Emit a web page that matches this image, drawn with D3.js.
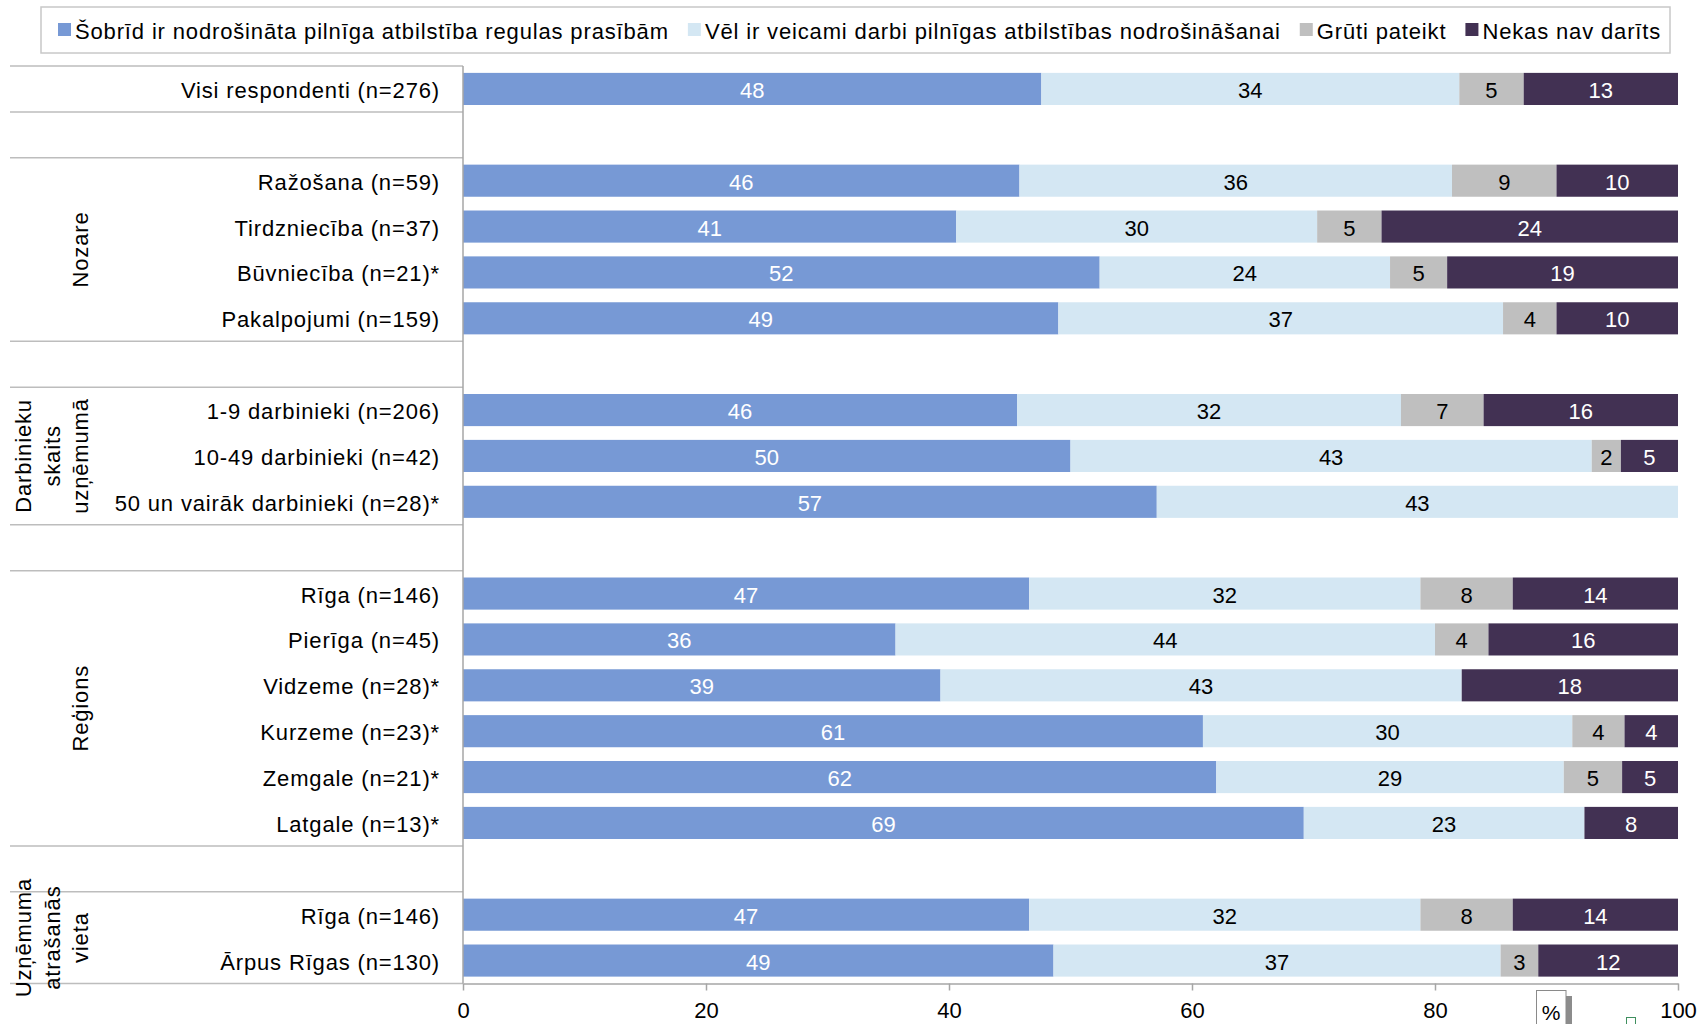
<!DOCTYPE html>
<html><head><meta charset="utf-8">
<script src="https://cdn.jsdelivr.net/npm/d3@7"></script>
<style>
html,body{margin:0;padding:0;background:#fff;}
svg{display:block;font-family:"Liberation Sans",Arial,Helvetica,sans-serif;}
</style></head><body>
<svg id="chart" width="1700" height="1024"></svg>
<script>
// ---- data ----
const seriesNames = [
  "Šobrīd ir nodrošināta pilnīga atbilstība regulas prasībām",
  "Vēl ir veicami darbi pilnīgas atbilstības nodrošināšanai",
  "Grūti pateikt",
  "Nekas nav darīts"
];
const seriesColors = ["#7799d5", "#d4e7f3", "#bfbfbf", "#423153"];
const valueLabelColors = ["#ffffff", "#000000", "#000000", "#ffffff"];

const categories = [
  "Visi respondenti (n=276)", "",
  "Ražošana (n=59)", "Tirdzniecība (n=37)", "Būvniecība (n=21)*", "Pakalpojumi (n=159)", "",
  "1-9 darbinieki (n=206)", "10-49 darbinieki (n=42)", "50 un vairāk darbinieki (n=28)*", "",
  "Rīga (n=146)", "Pierīga (n=45)", "Vidzeme (n=28)*", "Kurzeme (n=23)*", "Zemgale (n=21)*", "Latgale (n=13)*", "",
  "Rīga (n=146)", "Ārpus Rīgas (n=130)"
];
const compliantNow  = [47.6, 0, 45.8, 40.6, 52.4, 49.0, 0, 45.6, 50.0, 57.1, 0, 46.6, 35.6, 39.3, 60.9, 62.0, 69.2, 0, 46.6, 48.6];
const workRemaining = [34.4, 0, 35.6, 29.7, 23.9, 36.6, 0, 31.6, 42.9, 42.9, 0, 32.2, 44.4, 42.9, 30.4, 28.6, 23.1, 0, 32.2, 36.8];
const hardToSay     = [ 5.3, 0,  8.6,  5.3,  4.7,  4.4, 0,  6.8,  2.4,  0.0, 0,  7.6,  4.4,  0.0,  4.3,  4.8,  0.0, 0,  7.6,  3.1];
const nothingDone   = [12.7, 0, 10.0, 24.4, 19.0, 10.0, 0, 16.0,  4.7,  0.0, 0, 13.6, 15.6, 17.8,  4.4,  4.6,  7.7, 0, 13.6, 11.5];

const groupLabels = [["Nozare"], ["Darbinieku", "skaits", "uzņēmumā"], ["Reģions"], ["Uzņēmuma", "atrašanās", "vieta"]];
const groupFirst = [2, 7, 11, 18];
const groupLast  = [5, 9, 16, 19];

const xTicks = [0, 20, 40, 60, 80, 100];
const axisUnit = "%";

// ---- build ----
const seriesArrays = [compliantNow, workRemaining, hardToSay, nothingDone];
const keys = seriesNames.map((d, i) => "s" + i);
const rows = categories.map((c, i) => {
  const r = {idx: i, cat: c};
  keys.forEach((k, j) => r[k] = categories[i] ? seriesArrays[j][i] : 0);
  return r;
});
const stacked = d3.stack().keys(keys)(rows);

const svg = d3.select("#chart");
const FONT = 22, LS = 0.85, TXT_DY = 9;

const x = d3.scaleLinear().domain([0, 100]).range([463, 1678]);
const y = d3.scaleBand().domain(d3.range(categories.length)).range([66, 983.5])
  .paddingInner(0.3).paddingOuter(0.15);
const step = y.step();
const bound = k => k >= categories.length ? y.range()[1] : y(k) - y.paddingInner() * step / 2;

// separator lines on left side
const runs = [];
categories.forEach((c, i) => {
  if (!c) return;
  if (runs.length && runs[runs.length - 1][1] === i - 1) runs[runs.length - 1][1] = i;
  else runs.push([i, i]);
});
const sepYs = Array.from(new Set(runs.flatMap(r => [bound(r[0]), bound(r[1] + 1)])));
svg.append("g").selectAll("line").data(sepYs).join("line")
  .attr("x1", 10).attr("x2", x(0)).attr("y1", d => d).attr("y2", d => d)
  .attr("stroke", "#bdbdbd").attr("stroke-width", 1.5);

// bars
const layer = svg.append("g").selectAll("g").data(stacked).join("g")
  .attr("fill", (d, i) => seriesColors[i]);
layer.selectAll("rect").data(d => d.filter(p => p.data.cat && p[1] - p[0] > 0)).join("rect")
  .attr("x", d => x(d[0])).attr("width", d => x(d[1]) - x(d[0]))
  .attr("y", d => y(d.data.idx)).attr("height", y.bandwidth());

// value labels
const vl = svg.append("g").attr("font-size", FONT).attr("text-anchor", "middle");
stacked.forEach((s, i) => {
  vl.selectAll(null).data(s.filter(p => p.data.cat && p[1] - p[0] > 0)).join("text")
    .attr("x", d => (x(d[0]) + x(d[1])) / 2)
    .attr("y", d => y(d.data.idx) + y.bandwidth() / 2 + TXT_DY)
    .attr("fill", valueLabelColors[i])
    .text(d => Math.round(d[1] - d[0]));
});

// category labels
svg.append("g").attr("font-size", FONT).attr("text-anchor", "end").attr("letter-spacing", LS)
  .selectAll("text").data(rows.filter(r => r.cat)).join("text")
  .attr("x", 440).attr("y", d => y(d.idx) + y.bandwidth() / 2 + TXT_DY)
  .attr("fill", "#000").text(d => d.cat);

// group labels (rotated)
const gl = svg.append("g").attr("font-size", FONT).attr("text-anchor", "middle").attr("letter-spacing", LS);
groupLabels.forEach((lines, gi) => {
  const cy = (bound(groupFirst[gi]) + bound(groupLast[gi] + 1)) / 2;
  const lastX = 88, lh = 28.5;
  const t = gl.append("text")
    .attr("transform", `translate(${lastX - (lines.length - 1) * lh},${cy}) rotate(-90)`)
    .attr("fill", "#000");
  lines.forEach((ln, li) => t.append("tspan").attr("x", 0).attr("dy", li ? lh : 0).text(ln));
});

// vertical axis line
svg.append("line").attr("x1", x(0)).attr("x2", x(0)).attr("y1", y.range()[0]).attr("y2", y.range()[1])
  .attr("stroke", "#a6a6a6").attr("stroke-width", 1.5);

// x axis
const ax = svg.append("g").attr("transform", `translate(0,${y.range()[1]})`)
  .call(d3.axisBottom(x).tickValues(xTicks).tickSize(7).tickSizeOuter(0).tickPadding(11.5).tickFormat(d3.format("d")));
ax.select(".domain").attr("stroke", "#a6a6a6").attr("stroke-width", 1.5);
ax.selectAll(".tick line").attr("stroke", "#a6a6a6").attr("stroke-width", 1.5);
ax.selectAll(".tick text").attr("font-size", FONT).attr("fill", "#000").attr("font-family", null);

// axis unit box ("%")
const ub = svg.append("g");
ub.append("rect").attr("x", 1566).attr("y", 996).attr("width", 6).attr("height", 40).attr("fill", "#8c8c8c");
ub.append("rect").attr("x", 1536.5).attr("y", 990.5).attr("width", 29.5).attr("height", 45)
  .attr("fill", "#fff").attr("stroke", "#8a8a8a").attr("stroke-width", 1);
ub.append("text").attr("x", 1551).attr("y", 1020).attr("font-size", 21).attr("text-anchor", "middle").text(axisUnit);
ub.append("rect").attr("x", 1626.5).attr("y", 1017.5).attr("width", 9).attr("height", 12)
  .attr("fill", "none").attr("stroke", "#3f8f5f").attr("stroke-width", 1);

// legend
const lg = svg.append("g");
lg.append("rect").attr("x", 41).attr("y", 7).attr("width", 1629).attr("height", 46)
  .attr("fill", "#fff").attr("stroke", "#c8c8c8").attr("stroke-width", 1.5);
let lx = 58;
seriesNames.forEach((name, i) => {
  lg.append("rect").attr("x", lx).attr("y", 23).attr("width", 13).attr("height", 13).attr("fill", seriesColors[i]);
  const t = lg.append("text").attr("x", lx + 17).attr("y", 38.5).attr("font-size", FONT)
    .attr("letter-spacing", LS).attr("fill", "#000").text(name);
  lx += 17 + t.node().getComputedTextLength() + 19;
});
</script>
</body></html>
